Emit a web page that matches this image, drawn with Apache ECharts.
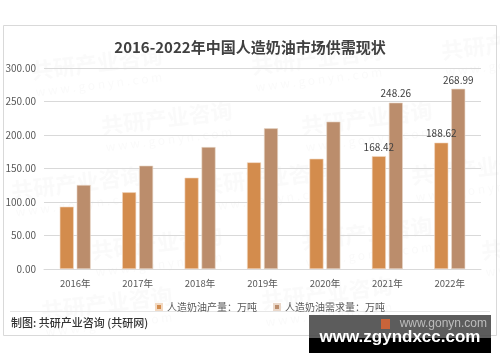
<!DOCTYPE html>
<html>
<head>
<meta charset="utf-8">
<script src="https://cdn.jsdelivr.net/npm/echarts@6/dist/echarts.min.js"></script>
<style>html,body{margin:0;padding:0;background:#fff;}#c{width:500px;height:362px;}</style>
</head>
<body>
<div id="c"></div>
<script>
const categories = ['2016年','2017年','2018年','2019年','2020年','2021年','2022年'];
const production = [93, 114.5, 136.3, 159.2, 164.6, 168.42, 188.62];
const demand = [125.4, 154.2, 182, 210, 219.9, 248.26, 268.99];
const labeledIndices = [5, 6];
const seriesNames = ['人造奶油产量：万吨', '人造奶油需求量：万吨'];

const FONT = '"Noto Sans CJK SC", "Noto Sans", sans-serif';

function withLabels(arr) {
  return arr.map((v, i) => ({
    value: v,
    label: { show: labeledIndices.indexOf(i) >= 0 }
  }));
}

const wmText = [];
const wmPos = [[30,60],[250,55],[440,40],[100,115],[300,115],[10,180],[200,175],[410,165],[90,240],[300,230],[480,240],[40,300],[260,290]];
wmPos.forEach(p => {
  wmText.push({
    type: 'text', x: p[0], y: p[1], rotation: 0.12, z: -1, silent: true,
    style: { text: '共研产业咨询', font: 'bold 22px ' + FONT, fill: 'rgba(200,200,200,0.09)' }
  });
  wmText.push({
    type: 'text', x: p[0] + 5, y: p[1] + 26, rotation: 0.12, z: -1, silent: true,
    style: { text: 'w w w . g o n y n . c o m', font: '12px ' + FONT, fill: 'rgba(200,200,200,0.09)' }
  });
});

const chart = echarts.init(document.getElementById('c'));
chart.setOption({
  backgroundColor: '#fff',
  animation: false,
  textStyle: { fontFamily: FONT },
  title: {
    text: '2016-2022年中国人造奶油市场供需现状',
    left: 'center', top: 35,
    textStyle: { fontSize: 15, fontWeight: 'bold', color: '#404040', fontFamily: FONT }
  },
  legend: {
    left: 150, top: 297,
    itemWidth: 6, itemHeight: 6, itemGap: 16,
    icon: 'rect',
    textStyle: { fontSize: 10, color: '#595959', fontFamily: FONT },
    data: seriesNames
  },
  grid: { left: 44, right: 19, top: 68, bottom: 93 },
  xAxis: {
    type: 'category',
    data: categories,
    axisLine: { lineStyle: { color: '#d9d9d9' } },
    axisTick: { show: false },
    axisLabel: { fontSize: 9.5, color: '#595959', margin: 10, fontFamily: FONT }
  },
  yAxis: {
    type: 'value',
    min: 0, max: 300, interval: 50,
    axisLine: { show: false },
    axisTick: { show: false },
    axisLabel: { fontSize: 10, color: '#595959', margin: 8, fontFamily: FONT,
      formatter: v => v.toFixed(2) },
    splitLine: { lineStyle: { color: '#d9d9d9' } }
  },
  series: [
    {
      name: seriesNames[0], type: 'bar', barWidth: 14, barGap: '21%',
      data: withLabels(production),
      itemStyle: { color: '#D38C4D', borderColor: '#f2d9c2', borderWidth: 0.6 },
      label: { position: 'top', distance: 4, fontSize: 10, color: '#404040', fontFamily: FONT,
        formatter: p => p.value.toFixed(2) }
    },
    {
      name: seriesNames[1], type: 'bar', barWidth: 14, barGap: '21%',
      data: withLabels(demand),
      itemStyle: { color: '#BB8D6C', borderColor: '#ead8ca', borderWidth: 0.6 },
      label: { position: 'top', distance: 4, fontSize: 10, color: '#404040', fontFamily: FONT,
        formatter: p => p.value.toFixed(2) }
    }
  ],
  graphic: wmText.concat([
    { type: 'rect', shape: { x: 3.5, y: 25.5, width: 493, height: 310 }, z: -2, silent: true,
      style: { fill: 'none', stroke: '#d9d9d9', lineWidth: 1 } },
    { type: 'line', shape: { x1: 10, y1: 311.5, x2: 490, y2: 311.5 }, silent: true,
      style: { stroke: '#e6e6e6', lineWidth: 1 } },
    { type: 'text', x: 11, y: 317, silent: true,
      style: { text: '制图: 共研产业咨询 (共研网)', font: '500 11px ' + FONT, fill: '#333' } },
    { type: 'rect', shape: { x: 309, y: 315, width: 182, height: 23 }, z: 10, silent: true,
      style: { fill: 'rgba(70,70,70,0.88)' } },
    { type: 'rect', shape: { x: 309, y: 338, width: 182, height: 15 }, z: 10, silent: true,
      style: { fill: '#000' } },
    { type: 'rect', shape: { x: 381, y: 319, width: 9, height: 10 }, z: 11, silent: true,
      style: { fill: '#c8643a' } },
    { type: 'text', x: 487, y: 324, z: 11, silent: true,
      style: { text: 'www.gonyn.com', font: '12px "Liberation Sans", sans-serif', fill: '#bdbdbd',
        align: 'right', verticalAlign: 'middle' } },
    { type: 'text', x: 400, y: 337, z: 12, silent: true,
      style: { text: 'www.zgyndxcc.com', font: 'bold 17px "Liberation Sans", sans-serif', fill: '#fff',
        align: 'center', verticalAlign: 'middle' } }
  ])
});
</script>
</body>
</html>
